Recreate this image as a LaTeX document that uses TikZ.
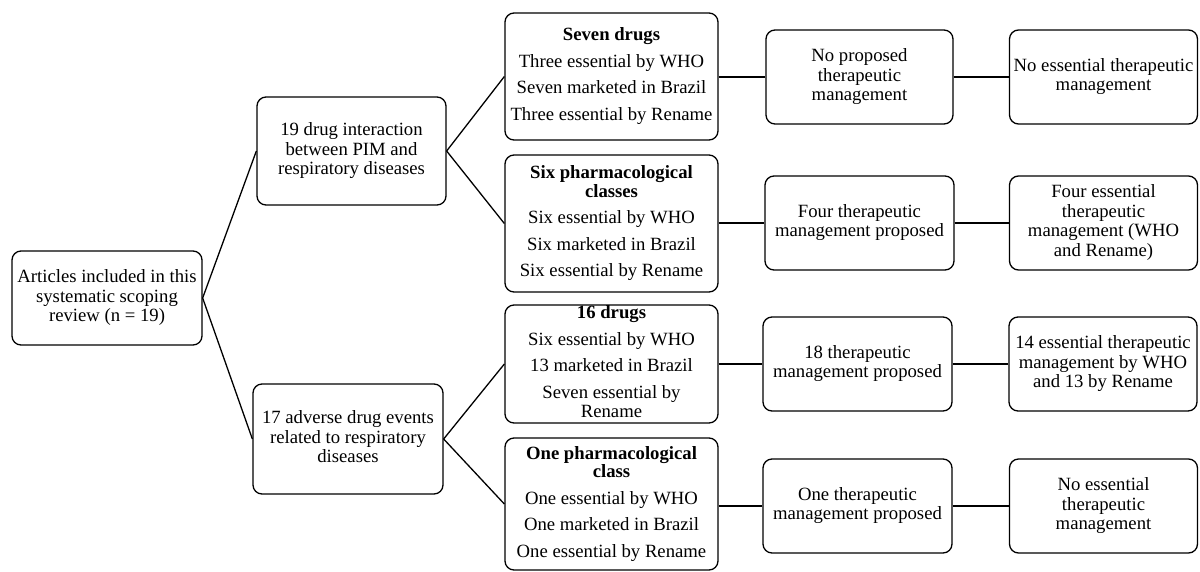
\documentclass[tikz,border=0pt]{standalone}
\usepackage{fontspec}
\setmainfont{Liberation Serif}
\newcommand\bxt[1]{\smash{\raisebox{-4.6pt}{\begin{tabular}{@{}c@{}}#1\end{tabular}}}}
\begin{document}
\begin{tikzpicture}[x=1pt,y=-1pt,
  every node/.style={font=\fontsize{18.7}{19.5}\selectfont},
  bx/.style={draw, line width=1.3pt, rounded corners=9pt, inner sep=0pt, align=center},
  link/.style={line width=1.3pt}]
\useasboundingbox (0,0) rectangle (1200,571);
\node[bx, minimum width=190pt, minimum height=94pt] (A) at (107,298)
  {\bxt{Articles included in this\\systematic scoping\\review (n = 19)}};
\node[bx, minimum width=189pt, minimum height=108pt] (B1) at (351.5,151)
  {\bxt{19 drug interaction\\between PIM and\\respiratory diseases}};
\node[bx, minimum width=190pt, minimum height=110pt] (B2) at (348,439)
  {\bxt{17 adverse drug events\\related to respiratory\\diseases}};
\node[bx, minimum width=213pt, minimum height=127pt] (C1) at (611.5,76.5)
  {\bxt{\textbf{Seven drugs}\\[7pt]Three essential by WHO\\[7pt]Seven marketed in Brazil\\[7pt]Three essential by Rename}};
\node[bx, minimum width=213pt, minimum height=137pt] (C2) at (611.5,223.5)
  {\bxt{\textbf{Six pharmacological}\\[-1pt]\textbf{classes}\\[7pt]Six essential by WHO\\[7pt]Six marketed in Brazil\\[7pt]Six essential by Rename}};
\node[bx, minimum width=213pt, minimum height=118pt] (C3) at (611.5,364)
  {\bxt{\textbf{16 drugs}\\[7pt]Six essential by WHO\\[7pt]13 marketed in Brazil\\[7pt]Seven essential by\\Rename}};
\node[bx, minimum width=213pt, minimum height=132pt] (C4) at (611.5,504)
  {\bxt{\textbf{One pharmacological}\\[-1pt]\textbf{class}\\[7pt]One essential by WHO\\[7pt]One marketed in Brazil\\[7pt]One essential by Rename}};
\node[bx, minimum width=187pt, minimum height=94pt] (D1) at (859.5,77)
  {\bxt{No proposed\\therapeutic\\management}};
\node[bx, minimum width=189pt, minimum height=94pt] (D2) at (859.5,223)
  {\bxt{Four therapeutic\\management proposed}};
\node[bx, minimum width=189pt, minimum height=94pt] (D3) at (857.5,364)
  {\bxt{18 therapeutic\\management proposed}};
\node[bx, minimum width=189pt, minimum height=94pt] (D4) at (857.5,506)
  {\bxt{One therapeutic\\management proposed}};
\node[bx, minimum width=188pt, minimum height=94pt] (E1) at (1103.5,77)
  {\bxt{No essential therapeutic\\management}};
\node[bx, minimum width=188pt, minimum height=94pt] (E2) at (1103.5,223)
  {\bxt{Four essential\\therapeutic\\management (WHO\\and Rename)}};
\node[bx, minimum width=188pt, minimum height=94pt] (E3) at (1103,364)
  {\bxt{14 essential therapeutic\\management by WHO\\and 13 by Rename}};
\node[bx, minimum width=188pt, minimum height=94pt] (E4) at (1103.5,506)
  {\bxt{No essential\\therapeutic\\management}};
\draw[link] (A.east) -- (B1.west);
\draw[link] (A.east) -- (B2.west);
\draw[link] (B1.east) -- (C1.west);
\draw[link] (B1.east) -- (C2.west);
\draw[link] (B2.east) -- (C3.west);
\draw[link] (B2.east) -- (C4.west);
\foreach \i in {1,2,3,4}{
  \draw[link] (C\i.east |- D\i.west) -- (D\i.west);
  \draw[link] (D\i.east) -- (E\i.west);
}
\end{tikzpicture}
\end{document}
